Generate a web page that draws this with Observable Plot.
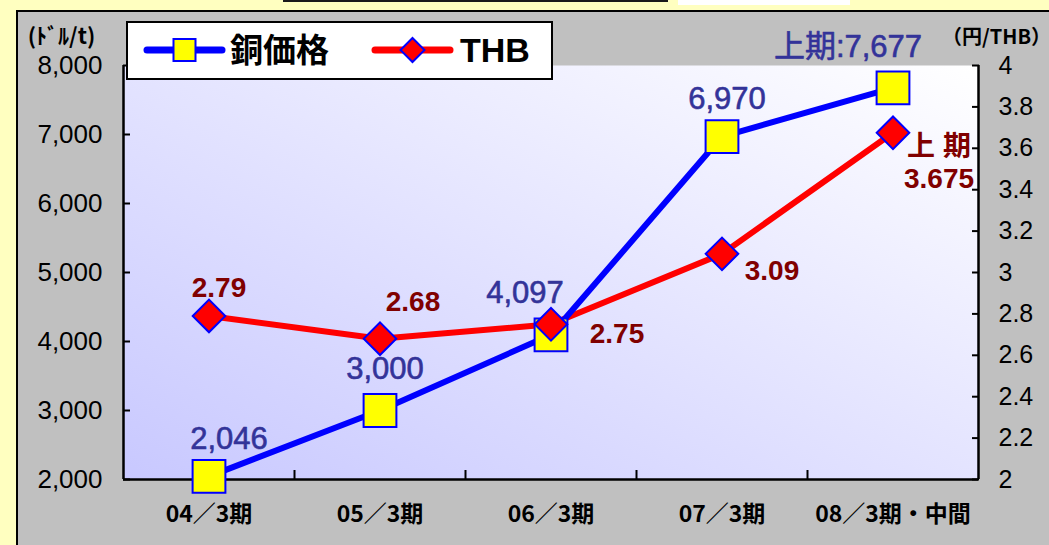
<!DOCTYPE html>
<html><head><meta charset="utf-8">
<script src="https://cdn.jsdelivr.net/npm/d3@7"></script>
<script src="https://cdn.jsdelivr.net/npm/@observablehq/plot@0.6"></script>
<style>
body{margin:0;width:1049px;height:545px;overflow:hidden;background:#FFFFC0;position:relative;font-family:"Liberation Sans","Noto Sans CJK JP",sans-serif;}
#topbar{position:absolute;left:283px;top:0;width:385px;height:2px;background:#1a1a1a;}
#topbox{position:absolute;left:678px;top:0;width:172px;height:5px;background:#fff;}
#panel{position:absolute;left:16px;top:10px;width:1040px;height:540px;background:#C0C0C0;border-left:2px solid #000;border-top:2px solid #000;}
#chart{position:absolute;left:0;top:0;}
#legend{position:absolute;left:126px;top:21px;}
</style>
</head><body>
<div id="topbar"></div><div id="topbox"></div>
<div id="panel"></div>
<div id="chart"></div>
<div id="legend"></div>
<script>
const categories = ["04／3期","05／3期","06／3期","07／3期","08／3期・中間"];
const copper = [2046, 3000, 4097, 6970, 7677];
const thb = [2.79, 2.68, 2.75, 3.09, 3.675];
const copperLabels = ["2,046","3,000","4,097","6,970","上期:7,677"];
const thbLabels = ["2.79","2.68","2.75","3.09","上 期\n3.675"];
const seriesNames = ["銅価格","THB"];
const leftTicks = [2000,3000,4000,5000,6000,7000,8000];
const rightTicks = [2,2.2,2.4,2.6,2.8,3,3.2,3.4,3.6,3.8,4];
const leftTitle = "(ﾄﾞﾙ/t)";
const rightTitle = "（円/THB）";

// label nudges (pixels) relative to their points
const copperNudge = [[20,-37],[5,-41],[-26,-42],[5,-37],[-45,-41]];
const thbNudge = [[10,-29],[33,-38],[66,8],[50,16],[46,29]];

const leftDomain = [2000, 8000], rightDomain = [2, 4];
const toLeft = v => leftDomain[0] + (v - rightDomain[0]) * (leftDomain[1]-leftDomain[0])/(rightDomain[1]-rightDomain[0]);
const fromLeft = v => rightDomain[0] + (v - leftDomain[0]) * (rightDomain[1]-rightDomain[0])/(leftDomain[1]-leftDomain[0]);

const rows = categories.map((c,i)=>({cat:c, xi:i+0.5, copper:copper[i], thb:thb[i], thbY:toLeft(thb[i])}));

const font = '"Liberation Sans","Noto Sans CJK JP",sans-serif';
const cjk = '"Noto Sans CJK JP",sans-serif';

const marks = [
  Plot.frame({fill:"url(#plotGrad)", stroke:null}),
  Plot.ruleX([0, categories.length], {stroke:"#000", strokeWidth:2.5}),
  Plot.ruleY([leftDomain[0]], {stroke:"#000", strokeWidth:2.5}),
  Plot.axisY(leftTicks, {anchor:"left", tickSize:0, tickPadding:21, tickFormat:d3.format(","), fontSize:26, fill:"#000", label:null}),
  Plot.axisY(leftTicks, {anchor:"left", tickSize:-7, tickFormat:()=>"", strokeWidth:2, stroke:"#000", label:null}),
  Plot.axisY(rightTicks.map(toLeft), {anchor:"right", tickSize:0, tickPadding:20, tickFormat:d=>String(+fromLeft(d).toFixed(1)), fontSize:25, fill:"#000", stroke:"#000", strokeWidth:0.4, label:null}),
  Plot.axisY(rightTicks.map(toLeft), {anchor:"right", tickSize:-7, tickFormat:()=>"", strokeWidth:2, stroke:"#000", label:null}),
  Plot.axisX(rows.map(r=>r.xi), {anchor:"bottom", tickSize:0, tickPadding:26, tickFormat:(d)=>categories[Math.floor(d)], fontSize:23, fontWeight:"bold", fontFamily:cjk, fill:"#000", label:null, style:"letter-spacing:4px"}),
  Plot.axisX(d3.range(1, categories.length), {anchor:"bottom", tickSize:-9, tickFormat:()=>"", strokeWidth:2, stroke:"#000", label:null}),
  Plot.line(rows, {x:"xi", y:"thbY", stroke:"#FF0000", strokeWidth:6}),
  Plot.line(rows, {x:"xi", y:"copper", stroke:"#0000FF", strokeWidth:6}),
  Plot.dot(rows, {x:"xi", y:"copper", symbol:"square", r:18.5, fill:"#FFFF00", stroke:"#0000FF", strokeWidth:2}),
  Plot.dot(rows, {x:"xi", y:"thbY", symbol:"square", rotate:45, r:13, fill:"#FF0000", stroke:"#0000FF", strokeWidth:2}),
  ...rows.map((r,i)=>Plot.text([r], {x:"xi", y:"copper", text:()=>copperLabels[i], dx:copperNudge[i][0], dy:copperNudge[i][1], fontSize:31, fill:"#333399", stroke:"#333399", strokeWidth:0.6, fontFamily:font})),
  ...rows.map((r,i)=>Plot.text([r], {x:"xi", y:"thbY", text:()=>thbLabels[i], dx:thbNudge[i][0], dy:thbNudge[i][1], fontSize:28, fontWeight:"bold", fill:"#800000", fontFamily:font, lineHeight:1.15})),
  Plot.text([leftTitle], {frameAnchor:"top-left", textAnchor:"middle", dx:-62, dy:-37, fontSize:22, fontWeight:"bold", fill:"#000", fontFamily:cjk, style:"letter-spacing:1px"}),
  Plot.text([rightTitle], {frameAnchor:"top-right", textAnchor:"middle", dx:18, dy:-36, fontSize:20, fontWeight:"bold", fill:"#000", fontFamily:cjk, style:"letter-spacing:1px"})
];

const chart = Plot.plot({
  width:1049, height:545,
  marginLeft:123, marginRight:71, marginTop:65, marginBottom:66,
  style:{background:"transparent", fontFamily:font, overflow:"visible"},
  x:{type:"linear", domain:[0, categories.length], axis:null},
  y:{domain:leftDomain, axis:null},
  marks
});
const defs = d3.select(chart).insert("defs", ":first-child");
const g = defs.append("linearGradient").attr("id","plotGrad").attr("x1","0").attr("y1","1").attr("x2","1").attr("y2","0");
g.append("stop").attr("offset","0").attr("stop-color","#C8C8FF");
g.append("stop").attr("offset","1").attr("stop-color","#FFFFFF");
document.getElementById("chart").appendChild(chart);

// legend
const lg = d3.select("#legend").append("svg").attr("width",427).attr("height",59);
lg.append("rect").attr("x",1).attr("y",1).attr("width",425).attr("height",57).attr("fill","#fff").attr("stroke","#000").attr("stroke-width",2);
const items = [
  {name:seriesNames[0], x0:21, x1:96, color:"#0000FF", tx:104, fs:33},
  {name:seriesNames[1], x0:249, x1:324, color:"#FF0000", tx:334, fs:34}
];
items.forEach((it,i)=>{
  lg.append("line").attr("x1",it.x0).attr("x2",it.x1).attr("y1",29).attr("y2",29).attr("stroke",it.color).attr("stroke-width",7).attr("stroke-linecap","round");
  const cx=(it.x0+it.x1)/2;
  if(i===0) lg.append("rect").attr("x",cx-11).attr("y",18).attr("width",22).attr("height",22).attr("fill","#FFFF00").attr("stroke","#0000FF").attr("stroke-width",2);
  else lg.append("path").attr("d",`M${cx},${17}L${cx+12},29L${cx},41L${cx-12},29Z`).attr("fill","#FF0000").attr("stroke","#0000FF").attr("stroke-width",2);
  lg.append("text").attr("x",it.tx).attr("y",29).attr("dy","0.36em").attr("font-size",it.fs).attr("font-weight","bold").attr("font-family",i===0?cjk:font).attr("fill","#000").text(it.name);
});
</script>
</body></html>
